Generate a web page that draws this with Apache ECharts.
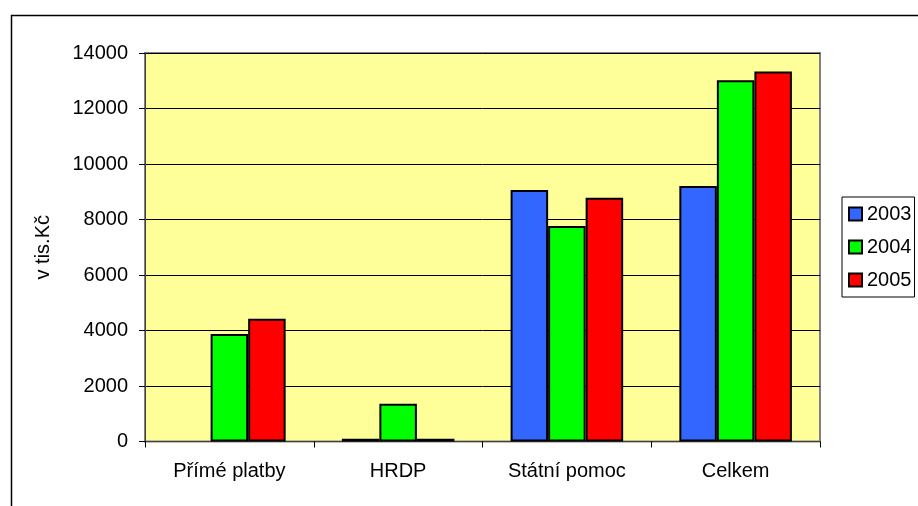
<!DOCTYPE html>
<html>
<head>
<meta charset="utf-8">
<script src="https://cdn.jsdelivr.net/npm/echarts@6/dist/echarts.min.js"></script>
<style>
html,body{margin:0;padding:0;background:#fff;}
#c{width:918px;height:506px;}
</style>
</head>
<body>
<div id="c"></div>
<script>
const categories = ['Přímé platby', 'HRDP', 'Státní pomoc', 'Celkem'];
const seriesNames = ['2003', '2004', '2005'];
const values2003 = [null, 100, 9060, 9210];
const values2004 = [3870, 1360, 7770, 13020];
const values2005 = [4420, 100, 8780, 13335];
const colors = ['#3366FF', '#00FF00', '#FF0000'];
const yTicks = { min: 0, max: 14000, interval: 2000 };
const yAxisName = 'v tis.Kč';

const FONT = '"Liberation Sans", Arial, sans-serif';
const FS = 20;
const chart = echarts.init(document.getElementById('c'), null, { renderer: 'canvas' });
const data = [values2003, values2004, values2005];

chart.setOption({
  animation: false,
  backgroundColor: '#ffffff',
  textStyle: { fontFamily: FONT },
  graphic: [{
    type: 'rect',
    left: 9, top: 13,
    shape: { width: 1000, height: 1000 },
    style: { fill: 'none', stroke: '#000', lineWidth: 1.5 },
    silent: true
  }],
  grid: {
    left: 145, top: 53, right: 98, bottom: 64.5,
    show: true,
    backgroundColor: '#FFFF99',
    borderColor: '#808080',
    borderWidth: 2
  },
  legend: {
    orient: 'vertical',
    left: 842, top: 197,
    data: seriesNames,
    icon: 'rect',
    itemWidth: 13, itemHeight: 13,
    itemGap: 13,
    itemTextGap: 5,
    padding: [7, 3, 7, 6],
    borderColor: '#000', borderWidth: 1,
    backgroundColor: '#fff',
    textStyle: { fontFamily: FONT, fontSize: FS, color: '#000' }
  },
  xAxis: {
    type: 'category',
    data: categories,
    axisLine: { lineStyle: { color: '#404040', width: 1 } },
    axisTick: { show: true, length: 6, lineStyle: { color: '#000' } },
    axisLabel: { fontFamily: FONT, fontSize: FS, color: '#000', margin: 20 },
    splitLine: { show: false }
  },
  yAxis: {
    type: 'value',
    min: yTicks.min, max: yTicks.max, interval: yTicks.interval,
    name: yAxisName,
    nameLocation: 'middle',
    nameRotate: 90,
    nameGap: 92,
    nameTextStyle: { fontFamily: FONT, fontSize: FS, color: '#000' },
    axisLine: { show: true, lineStyle: { color: '#404040', width: 1 } },
    axisTick: { show: true, length: 6, lineStyle: { color: '#000' } },
    axisLabel: { fontFamily: FONT, fontSize: FS, color: '#000', margin: 17,
      formatter: v => String(v) },
    splitLine: { show: true, lineStyle: { color: '#000', width: 1 } }
  },
  series: seriesNames.map((n, i) => ({
    name: n,
    type: 'bar',
    data: data[i],
    barGap: '0%',
    barCategoryGap: '33.3%',
    itemStyle: { color: colors[i], borderColor: '#000', borderWidth: 2 }
  }))
});
</script>
</body>
</html>
